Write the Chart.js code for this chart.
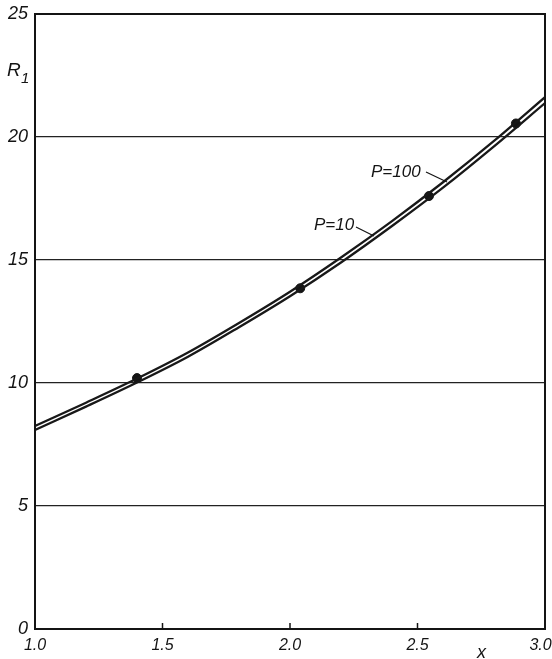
<!DOCTYPE html>
<html>
<head>
<meta charset="utf-8">
<script src="https://cdn.jsdelivr.net/npm/chart.js@4.4.1/dist/chart.umd.min.js"></script>
<style>
html,body{margin:0;padding:0;background:#fff;}
#wrap{width:552px;height:659px;position:relative;}
</style>
</head>
<body>
<div id="wrap"><canvas id="c" width="552" height="659"></canvas></div>
<script>
// x values of the curves
const xValues = [1.0, 1.2, 1.4, 1.6, 1.8, 2.0, 2.2, 2.4, 2.6, 2.8, 3.0];
// R1 for P=10 (lower line of the pair)
const r1P10 = [8.09, 9.04, 10.02, 11.07, 12.27, 13.53, 14.90, 16.38, 17.94, 19.62, 21.38];
// R1 for P=100 (upper line of the pair)
const r1P100 = [8.25, 9.20, 10.18, 11.24, 12.44, 13.71, 15.10, 16.58, 18.16, 19.84, 21.62];
// measured points
const pointX = [1.40, 2.04, 2.545, 2.886];
const pointY = [10.2, 13.85, 17.6, 20.55];
// axis ticks
const xTicks = [1.0, 1.5, 2.0, 2.5, 3.0];
const xTickLabels = ["1.0", "1.5", "2.0", "2.5", "3.0\u00a0\u00a0"];
const yTicks = [0, 5, 10, 15, 20, 25];

const FONT = "'Liberation Sans', Arial, sans-serif";

const toXY = (xs, ys) => xs.map((x, i) => ({x: x, y: ys[i]}));

const framePlugin = {
  id: 'frame',
  afterDraw(chart) {
    const ctx = chart.ctx;
    const a = chart.chartArea;
    const xs = chart.scales.x;
    ctx.save();
    // frame
    ctx.strokeStyle = '#141414';
    ctx.lineWidth = 2;
    ctx.strokeRect(a.left, a.top, a.right - a.left, a.bottom - a.top);
    // inner ticks on x axis
    ctx.lineWidth = 1.5;
    xTicks.slice(1, -1).forEach(v => {
      const px = xs.getPixelForValue(v);
      ctx.beginPath();
      ctx.moveTo(px, a.bottom);
      ctx.lineTo(px, a.bottom - 6);
      ctx.stroke();
    });
    // axis titles
    ctx.fillStyle = '#141414';
    ctx.font = 'italic 19px ' + FONT;
    ctx.textBaseline = 'alphabetic';
    ctx.textAlign = 'left';
    ctx.fillText('R', 7, 76);
    ctx.font = 'italic 15px ' + FONT;
    ctx.fillText('1', 21, 83);
    ctx.font = 'italic 18px ' + FONT;
    ctx.fillText('x', 477, 658);
    // curve labels with leaders
    ctx.font = 'italic 17px ' + FONT;
    ctx.fillText('P=10', 314, 230);
    ctx.fillText('P=100', 371, 177);
    ctx.lineWidth = 1.2;
    ctx.beginPath();
    ctx.moveTo(356, 227);
    ctx.lineTo(374, 236);
    ctx.moveTo(426, 172);
    ctx.lineTo(447, 182);
    ctx.stroke();
    ctx.restore();
  }
};

new Chart(document.getElementById('c'), {
  type: 'scatter',
  data: {
    datasets: [
      {
        label: 'P=10',
        type: 'line',
        data: toXY(xValues, r1P10),
        borderColor: '#181818',
        borderWidth: 2.3,
        pointRadius: 0,
        cubicInterpolationMode: 'monotone',
        fill: false
      },
      {
        label: 'P=100',
        type: 'line',
        data: toXY(xValues, r1P100),
        borderColor: '#181818',
        borderWidth: 2.3,
        pointRadius: 0,
        cubicInterpolationMode: 'monotone',
        fill: false
      },
      {
        label: 'points',
        data: toXY(pointX, pointY),
        backgroundColor: '#141414',
        borderColor: '#141414',
        pointRadius: 4.5,
        pointHoverRadius: 4.5
      }
    ]
  },
  options: {
    responsive: false,
    animation: false,
    devicePixelRatio: 1,
    layout: {padding: {top: 14, right: 7, left: 0, bottom: 0}},
    plugins: {
      legend: {display: false},
      tooltip: {enabled: false}
    },
    scales: {
      x: {
        type: 'linear',
        min: 1, max: 3,
        afterBuildTicks: s => { s.ticks = xTicks.map(v => ({value: v})); },
        afterFit: s => { s.height = 30; s.paddingLeft = 0; s.paddingRight = 0; },
        grid: {display: false, drawTicks: false},
        border: {display: false},
        ticks: {
          padding: 7,
          color: '#141414',
          font: {family: FONT, size: 16, style: 'italic'},
          maxRotation: 0,
          autoSkip: false,
          callback: (v) => { const i = xTicks.indexOf(v); return i >= 0 ? xTickLabels[i] : ''; }
        }
      },
      y: {
        type: 'linear',
        min: 0, max: 25,
        afterBuildTicks: s => { s.ticks = yTicks.map(v => ({value: v})); },
        afterFit: s => { s.width = 35; s.paddingTop = 0; s.paddingBottom = 0; },
        grid: {color: '#222', lineWidth: 1.2, drawTicks: false},
        border: {display: false},
        ticks: {
          padding: 7,
          color: '#141414',
          font: {family: FONT, size: 18, style: 'italic'}
        }
      }
    }
  },
  plugins: [framePlugin]
});
</script>
</body>
</html>
